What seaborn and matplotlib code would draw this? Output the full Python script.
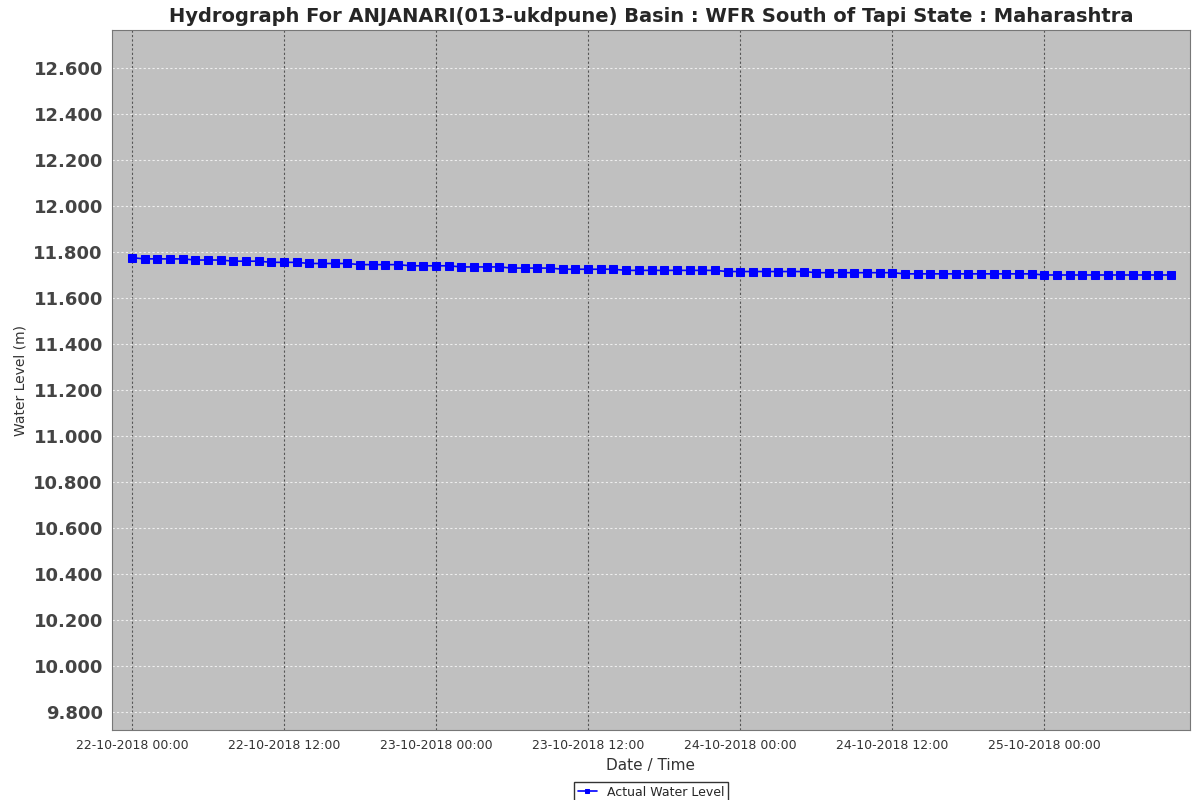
import numpy as np
import pandas as pd
import seaborn as sns
import matplotlib.pyplot as plt
import matplotlib.dates as mdates
from matplotlib.ticker import FormatStrFormatter

# hourly water level readings, 22-10-2018 00:00 onward
levels = ([11.775] + [11.770]*4 + [11.765]*3 + [11.760]*3 + [11.755]*3 +
          [11.750]*4 + [11.745]*4 + [11.740]*4 + [11.735]*4 + [11.730]*4 +
          [11.725]*5 + [11.720]*8 + [11.715]*7 + [11.710]*7 + [11.705]*11 +
          [11.700]*11)
times = pd.date_range('2018-10-22 00:00', periods=len(levels), freq='h')
df = pd.DataFrame({'time': times, 'level': levels})

sns.set_style('whitegrid')
plt.rcParams['font.family'] = ['DejaVu Sans']

fig = plt.figure(figsize=(12, 8), dpi=100)
ax = fig.add_axes([0.0933, 0.0875, 0.8984, 0.875])
ax.set_facecolor('#c0c0c0')

sns.lineplot(data=df, x='time', y='level', ax=ax, color='blue', marker='s',
             markersize=6, markeredgecolor='blue', linewidth=1.2,
             label='Actual Water Level')

t0 = pd.Timestamp('2018-10-22 00:00')
ax.set_xlim(t0 - pd.Timedelta(hours=1.58), t0 + pd.Timedelta(hours=83.5))
ax.set_ylim(9.722, 12.765)
ax.xaxis.set_major_locator(mdates.HourLocator(byhour=[0, 12]))
ax.xaxis.set_major_formatter(mdates.DateFormatter('%d-%m-%Y %H:%M'))
ax.yaxis.set_major_locator(plt.MultipleLocator(0.2))
ax.yaxis.set_major_formatter(FormatStrFormatter('%.3f'))
ax.tick_params(axis='x', labelsize=9, colors='#333333', length=3)
ax.tick_params(axis='y', labelsize=13, length=3)
for lb in ax.get_yticklabels():
    lb.set_fontweight('bold')
    lb.set_color('#444444')

ax.grid(axis='x', color='#555555', linestyle=(0, (2, 2)), linewidth=0.8)
ax.grid(axis='y', color='#eeeeee', linestyle=(0, (2, 2)), linewidth=0.8)
for s in ax.spines.values():
    s.set_color('#777777')

ax.set_xlabel('Date / Time', fontsize=11, color='#333333')
ax.set_ylabel('Water Level (m)', fontsize=10, color='#333333')
ax.set_title('Hydrograph For ANJANARI(013-ukdpune) Basin : WFR South of Tapi State : Maharashtra',
             fontsize=14, fontweight='bold', pad=6)

ax.legend(loc='upper center', bbox_to_anchor=(0.5, -0.065), fontsize=9,
          frameon=True, fancybox=False, edgecolor='black', borderpad=0.3,
          handlelength=1.5, markerscale=0.6)

fig.savefig('out.png', dpi=100)
